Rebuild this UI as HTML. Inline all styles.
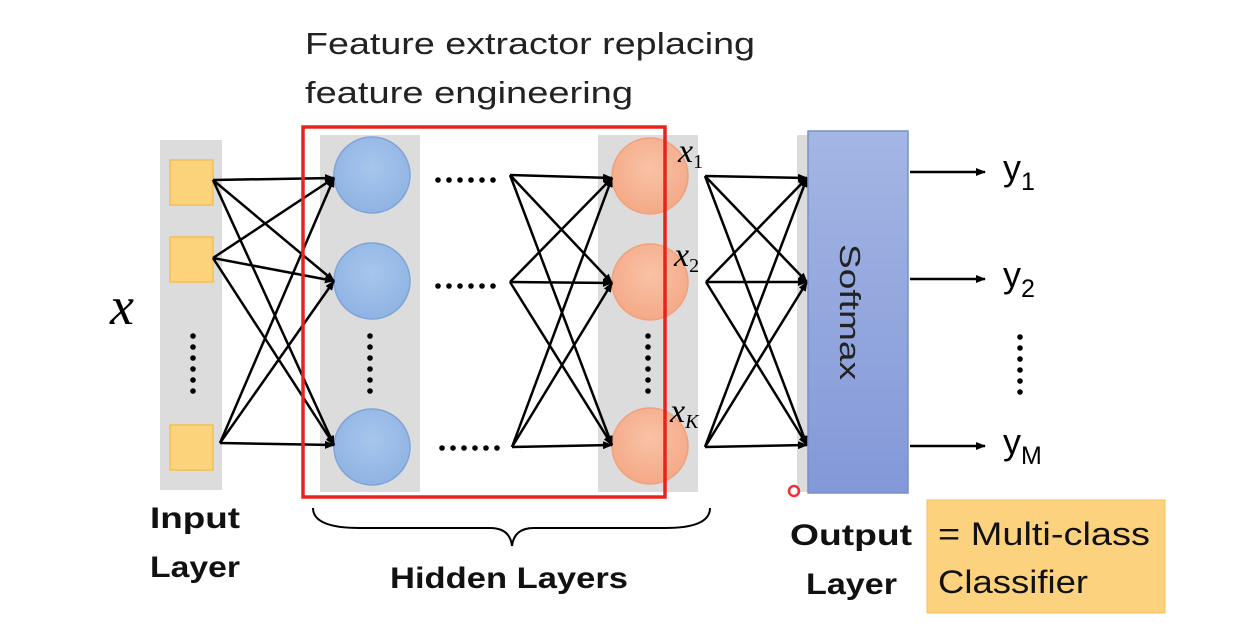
<!DOCTYPE html>
<html><head><meta charset="utf-8"><style>
body{margin:0;background:#fff;width:1248px;height:632px;overflow:hidden}
text{font-family:"Liberation Sans",sans-serif}
.s{font-family:"Liberation Serif",serif;font-style:italic}
</style></head><body>
<svg width="1248" height="632" viewBox="0 0 1248 632">
<defs>
<marker id="a" markerWidth="10" markerHeight="8" refX="9" refY="4" orient="auto" markerUnits="userSpaceOnUse"><path d="M0,0L10,4L0,8z" fill="#000"/></marker>
<linearGradient id="bl" x1="0" y1="0" x2="0" y2="1"><stop offset="0" stop-color="#a4b6e4"/><stop offset="1" stop-color="#8398d8"/></linearGradient>
<radialGradient id="bc" cx=".5" cy=".4" r=".6"><stop offset="0" stop-color="#a7c6ec"/><stop offset="1" stop-color="#8fb3e3"/></radialGradient>
<radialGradient id="oc" cx=".5" cy=".4" r=".6"><stop offset="0" stop-color="#f9c2a6"/><stop offset="1" stop-color="#f4a987"/></radialGradient>
<g id="vd"><circle cx="0" cy="0" r="2.8"/><circle cx="0" cy="11" r="2.8"/><circle cx="0" cy="22" r="2.8"/><circle cx="0" cy="33" r="2.8"/><circle cx="0" cy="44" r="2.8"/><circle cx="0" cy="55" r="2.8"/></g>
<g id="hd"><circle cx="0" cy="0" r="2.8"/><circle cx="11" cy="0" r="2.8"/><circle cx="22" cy="0" r="2.8"/><circle cx="33" cy="0" r="2.8"/><circle cx="44" cy="0" r="2.8"/><circle cx="55" cy="0" r="2.8"/></g>
</defs>
<text x="305" y="54" font-size="31" fill="#222" textLength="450" lengthAdjust="spacingAndGlyphs">Feature extractor replacing</text>
<text x="305" y="103" font-size="31" fill="#222" textLength="328" lengthAdjust="spacingAndGlyphs">feature engineering</text>
<rect x="160" y="140" width="62" height="350" fill="#dcdcdc"/>
<rect x="320" y="135" width="100" height="357" fill="#dcdcdc"/>
<rect x="598" y="135" width="100" height="357" fill="#dcdcdc"/>
<rect x="797" y="135" width="14" height="357" fill="#dcdcdc"/>
<g fill="#fcd27a" stroke="#f3bf52" stroke-width="1.5">
<rect x="170" y="160" width="43" height="45"/><rect x="170" y="237" width="43" height="45"/><rect x="170" y="425" width="43" height="45"/></g>
<g fill="url(#bc)" stroke="#7fa3d6" stroke-width="1.5">
<circle cx="372" cy="175" r="38"/><circle cx="372" cy="281" r="38"/><circle cx="372" cy="447" r="38"/></g>
<g fill="url(#oc)" stroke="#f0a07c" stroke-width="1.5">
<circle cx="650" cy="176" r="38"/><circle cx="650" cy="282" r="38"/><circle cx="650" cy="446" r="38"/></g>
<g stroke="#000" stroke-width="2.5" marker-end="url(#a)">
<line x1="213" y1="180" x2="334" y2="178"/><line x1="213" y1="180" x2="334" y2="281"/><line x1="213" y1="180" x2="334" y2="445"/>
<line x1="213" y1="258" x2="334" y2="178"/><line x1="213" y1="258" x2="334" y2="281"/><line x1="213" y1="258" x2="334" y2="445"/>
<line x1="220" y1="443" x2="334" y2="178"/><line x1="220" y1="443" x2="334" y2="281"/><line x1="220" y1="443" x2="334" y2="445"/>
<line x1="510" y1="175" x2="612" y2="178"/><line x1="510" y1="175" x2="612" y2="283"/><line x1="510" y1="175" x2="612" y2="445"/>
<line x1="510" y1="282" x2="612" y2="178"/><line x1="510" y1="282" x2="612" y2="283"/><line x1="510" y1="282" x2="612" y2="445"/>
<line x1="512" y1="447" x2="612" y2="178"/><line x1="512" y1="447" x2="612" y2="283"/><line x1="512" y1="447" x2="612" y2="445"/>
<line x1="705" y1="176" x2="807" y2="178"/><line x1="705" y1="176" x2="807" y2="282"/><line x1="705" y1="176" x2="807" y2="445"/>
<line x1="706" y1="282" x2="807" y2="178"/><line x1="706" y1="282" x2="807" y2="282"/><line x1="706" y1="282" x2="807" y2="445"/>
<line x1="705" y1="447" x2="807" y2="178"/><line x1="705" y1="447" x2="807" y2="282"/><line x1="705" y1="447" x2="807" y2="445"/>
<line x1="910" y1="172" x2="985" y2="172"/><line x1="910" y1="279" x2="985" y2="279"/><line x1="910" y1="446" x2="985" y2="446"/>
</g>
<g fill="#000">
<use href="#hd" x="438" y="180"/><use href="#hd" x="438" y="286"/><use href="#hd" x="442" y="448"/>
<use href="#vd" x="193" y="336"/><use href="#vd" x="370" y="336"/><use href="#vd" x="648" y="336"/><use href="#vd" x="1020" y="337"/>
</g>
<rect x="303" y="127" width="362" height="370" fill="none" stroke="#e8231c" stroke-width="3.5"/>
<rect x="808" y="131" width="100" height="362" fill="url(#bl)" stroke="#7890c8" stroke-width="1.5"/>
<text transform="translate(840,312) rotate(90)" text-anchor="middle" font-size="29" fill="#222" textLength="136" lengthAdjust="spacingAndGlyphs">Softmax</text>
<text class="s" x="110" y="324" font-size="54">x</text>
<text class="s" x="678" y="162" font-size="34">x<tspan font-size="20" dy="6" font-style="normal">1</tspan></text>
<text class="s" x="674" y="266" font-size="34">x<tspan font-size="20" dy="6" font-style="normal">2</tspan></text>
<text class="s" x="670" y="422" font-size="34">x<tspan font-size="20" dy="6">K</tspan></text>
<text x="1003" y="180" font-size="36">y<tspan font-size="25" dy="10">1</tspan></text>
<text x="1003" y="287" font-size="36">y<tspan font-size="25" dy="10">2</tspan></text>
<text x="1003" y="454" font-size="36">y<tspan font-size="25" dy="10">M</tspan></text>
<circle cx="794" cy="491" r="5" fill="none" stroke="#e33" stroke-width="2.5"/>
<path d="M313,508 Q313,528 360,528 L490,528 Q510,528 512,546 Q514,528 534,528 L665,528 Q710,528 710,508" fill="none" stroke="#000" stroke-width="2"/>
<g font-size="30" font-weight="bold" fill="#111" lengthAdjust="spacingAndGlyphs">
<text x="150" y="528" textLength="90" lengthAdjust="spacingAndGlyphs">Input</text><text x="150" y="577" textLength="90" lengthAdjust="spacingAndGlyphs">Layer</text>
<text x="390" y="588" textLength="238" lengthAdjust="spacingAndGlyphs">Hidden Layers</text>
<text x="790" y="545" textLength="122" lengthAdjust="spacingAndGlyphs">Output</text><text x="806" y="594" textLength="91" lengthAdjust="spacingAndGlyphs">Layer</text></g>
<rect x="927" y="500" width="238" height="113" fill="#fcd27e" stroke="#f5c15c"/>
<text x="938" y="545" font-size="32" fill="#111" textLength="212" lengthAdjust="spacingAndGlyphs">= Multi-class</text>
<text x="938" y="593" font-size="32" fill="#111" textLength="150" lengthAdjust="spacingAndGlyphs">Classifier</text>
</svg>
</body></html>
